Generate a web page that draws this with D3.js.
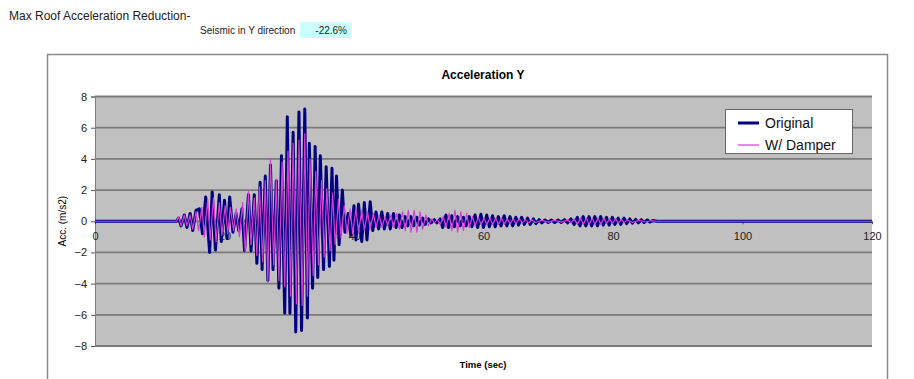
<!DOCTYPE html>
<html>
<head>
<meta charset="utf-8">
<script src="https://cdn.jsdelivr.net/npm/d3@7"></script>
<style>
  body { margin: 0; background: #fff; font-family: "Liberation Sans", Arial, sans-serif; }
</style>
</head>
<body>
<div id="chart"></div>
<script>
// header values
const headerTitle = "Max Roof Acceleration Reduction-";
const caseLabel = "Seismic in Y direction";
const caseValue = "-22.6%";

// axis ticks
const xTicks = [0, 20, 40, 60, 80, 100, 120];
const yTicks = [-8, -6, -4, -2, 0, 2, 4, 6, 8];

// series names
const seriesNames = ["Original", "W/ Damper"];

// Original: [time (sec), acc (m/s2)] at the visible peaks/troughs
const original = [
  [0, 0], [12.6, 0], [12.9, 0.2], [13.3, -0.3], [13.8, 0.4], [14.2, -0.4], [14.7, 0.5], [15.1, -0.6],
  [15.6, 0.7], [16.1, 0.8], [16.6, -0.8], [17.1, 1.56], [17.7, -2.0], [18.1, 1.88], [18.6, -1.85],
  [19.2, 1.7], [19.5, -1.3], [20.0, 1.35], [20.4, -1.1], [20.8, 1.56], [21.3, -0.7], [21.8, 0.5],
  [22.2, -0.6], [22.7, 0.8], [23.1, -1.9], [23.7, 1.7], [24.1, -1.9], [24.6, 1.7], [25.0, -2.7],
  [25.5, 2.5], [25.8, -3.1], [26.3, 2.9], [26.7, -3.8], [27.1, 3.6], [27.5, -3.1], [28.0, 2.6],
  [28.4, -4.3], [28.8, 4.2], [29.3, -5.9], [29.7, 6.7], [30.1, -5.9], [30.6, 5.7], [31.0, -7.1],
  [31.5, 7.0], [31.9, -7.0], [32.4, 7.2], [32.8, -6.2], [33.1, 5.0], [33.6, -4.3], [34.0, 4.8],
  [34.4, -3.6], [34.8, 4.2], [35.3, -3.1], [35.7, 3.5], [36.2, -2.9], [36.6, 3.4], [36.9, -2.5],
  [37.3, 2.9], [37.7, -1.5], [38.2, 2.0], [38.6, -0.7], [39.1, 0.5], [39.5, -0.9], [40.0, 1.0],
  [40.3, -1.2], [40.7, 1.1], [41.2, -1.3], [41.6, 1.2], [42.0, -1.2], [42.5, 1.25], [42.9, -0.6],
  [43.4, 0.6], [43.8, -0.5], [44.3, 0.6], [44.7, -0.5], [45.2, 0.5], [45.6, -0.5], [46.1, 0.5],
  [46.5, -0.4], [47.0, 0.4], [47.4, -0.4], [47.9, 0.3], [48.3, -0.3], [48.8, 0.3], [49.2, -0.3],
  [49.7, 0.25], [50.1, -0.25], [50.6, 0.2], [51.0, -0.2], [51.5, 0.15], [51.9, -0.1], [52.4, 0.1],
  [52.8, -0.1], [53.3, 0.15], [53.7, -0.4], [54.2, 0.4], [54.6, -0.4], [55.1, 0.35], [55.5, -0.35],
  [56.0, 0.3], [56.4, -0.3], [56.9, 0.25], [57.3, -0.3], [57.8, 0.3], [58.2, -0.35], [58.7, 0.4],
  [59.1, -0.4], [59.6, 0.45], [60.0, -0.4], [60.5, 0.4], [60.9, -0.35], [61.4, 0.35], [61.8, -0.35],
  [62.3, 0.3], [62.7, -0.3], [63.2, 0.35], [63.6, -0.3], [64.1, 0.3], [64.5, -0.3], [65.0, 0.25],
  [65.4, -0.25], [65.9, 0.25], [66.3, -0.2], [66.8, 0.2], [67.2, -0.2], [67.7, 0.15], [68.1, -0.15],
  [68.6, 0.1], [69.0, -0.1], [69.5, 0.08], [70.0, -0.08], [70.5, 0.08], [71.0, -0.08], [71.5, 0.08],
  [72.0, -0.08], [72.5, 0.1], [73.0, -0.1], [73.5, 0.15], [74.0, -0.2], [74.5, 0.25], [74.9, -0.3],
  [75.4, 0.3], [75.8, -0.3], [76.3, 0.3], [76.7, -0.3], [77.2, 0.3], [77.6, -0.3], [78.1, 0.3],
  [78.5, -0.25], [79.0, 0.25], [79.4, -0.25], [79.9, 0.25], [80.3, -0.2], [80.8, 0.2], [81.2, -0.2],
  [81.7, 0.2], [82.1, -0.15], [82.6, 0.15], [83.0, -0.12], [83.5, 0.12], [83.9, -0.1], [84.4, 0.1],
  [84.8, -0.08], [85.3, 0.08], [85.7, -0.05], [86.2, 0.05], [86.8, 0], [120, 0]
];

// W/ Damper: [time (sec), acc (m/s2)]
const damper = [
  [0, 0], [12.6, 0], [12.9, 0.3], [13.3, -0.3], [13.8, 0.4], [14.2, -0.3], [14.7, 0.4], [15.1, -0.5],
  [15.6, 0.6], [16.0, -0.6], [16.5, 0.9], [16.9, -1.0], [17.4, 1.4], [17.8, -1.2], [18.3, 1.5],
  [18.7, -1.3], [19.2, 1.2], [19.6, -0.9], [20.1, 1.0], [20.5, -0.8], [20.9, 0.9], [21.4, -0.6],
  [21.8, 0.8], [22.3, -1.0], [22.8, 1.2], [23.2, -2.0], [23.7, 1.9], [24.1, -1.5], [24.6, 1.5],
  [25.0, -2.2], [25.4, 2.2], [25.9, -2.6], [26.3, 2.6], [26.7, -3.9], [27.1, 4.0], [27.6, -2.8],
  [28.0, 2.7], [28.4, -3.8], [28.9, 3.8], [29.3, -4.2], [29.8, 4.5], [30.2, -4.8], [30.6, 5.0],
  [31.1, -5.3], [31.5, 5.2], [32.0, -5.4], [32.4, 5.6], [32.8, -4.8], [33.2, 4.0], [33.7, -3.5],
  [34.1, 3.2], [34.5, -2.8], [35.0, 2.6], [35.4, -2.3], [35.8, 2.1], [36.3, -1.9], [36.7, 1.8],
  [37.1, -1.5], [37.6, 1.4], [38.0, -1.1], [38.5, 1.0], [38.9, -0.8], [39.4, 0.8], [39.8, -0.8],
  [40.3, 0.8], [40.7, -0.7], [41.2, 0.7], [41.6, -0.6], [42.1, 0.6], [42.5, -0.5], [43.0, 0.5],
  [43.4, -0.4], [43.9, 0.4], [44.3, -0.4], [44.8, 0.3], [45.2, -0.3], [45.7, 0.4], [46.1, -0.4],
  [46.6, 0.5], [47.0, -0.5], [47.5, 0.6], [47.9, -0.6], [48.4, 0.7], [48.8, -0.7], [49.3, 0.7],
  [49.7, -0.7], [50.2, 0.6], [50.6, -0.5], [51.1, 0.4], [51.5, -0.3], [52.0, 0.15], [52.4, -0.1],
  [52.9, 0.1], [53.3, -0.2], [53.8, 0.3], [54.2, -0.4], [54.7, 0.5], [55.1, -0.6], [55.6, 0.7],
  [56.0, -0.7], [56.5, 0.6], [56.9, -0.6], [57.4, 0.5], [57.8, -0.4], [58.3, 0.3], [58.7, -0.3],
  [59.2, 0.25], [59.6, -0.2], [60.1, 0.2], [60.5, -0.2], [61.0, 0.2], [61.4, -0.2], [61.9, 0.2],
  [62.3, -0.2], [62.8, 0.2], [63.2, -0.2], [63.7, 0.15], [64.1, -0.15], [64.6, 0.15], [65.0, -0.15],
  [65.5, 0.15], [66.0, -0.1], [66.5, 0.1], [67.0, -0.1], [67.5, 0.1], [68.0, -0.08], [69.0, 0.06],
  [70.0, -0.06], [71.0, 0.06], [72.0, -0.06], [73.0, 0.08], [73.5, -0.1], [74.0, 0.15], [74.5, -0.2],
  [75.0, 0.2], [75.4, -0.2], [75.9, 0.2], [76.3, -0.2], [76.8, 0.2], [77.2, -0.2], [77.7, 0.2],
  [78.1, -0.2], [78.6, 0.2], [79.0, -0.15], [79.5, 0.15], [79.9, -0.15], [80.4, 0.15], [80.8, -0.12],
  [81.3, 0.12], [81.7, -0.1], [82.2, 0.1], [83.0, -0.08], [84.0, 0.06], [85.0, -0.05], [86.0, 0.04],
  [86.8, 0], [120, 0]
];

const colors = ["#000080", "#d63cd6"];
const widths = [3, 1.2];

const W = 914, H = 379;
const svg = d3.select("#chart").append("svg").attr("width", W).attr("height", H)
  .style("font-family", "'Liberation Sans', Arial, sans-serif");

// header
svg.append("text").attr("x", 9).attr("y", 20).style("font-size", "12px").attr("fill", "#222").text(headerTitle);
svg.append("rect").attr("x", 300).attr("y", 22).attr("width", 51).attr("height", 16).attr("fill", "#ccffff");
svg.append("text").attr("x", 200).attr("y", 34).style("font-size", "10px").attr("fill", "#222").text(caseLabel);
svg.append("text").attr("x", 347).attr("y", 34).attr("text-anchor", "end").style("font-size", "10px").attr("fill", "#222").text(caseValue);

// chart frame
svg.append("rect").attr("x", 47.5).attr("y", 54.5).attr("width", 840).attr("height", 340)
  .attr("fill", "#fff").attr("stroke", "#8a8a8a").attr("stroke-width", 1.5);

const margin = { left: 95, right: 872, top: 96.5, bottom: 346 };
const x = d3.scaleLinear().domain([0, 120]).range([margin.left, margin.right]);
const y = d3.scaleLinear().domain([-8, 8]).range([margin.bottom, margin.top]);

// plot area
svg.append("rect").attr("x", x(0)).attr("y", y(8)).attr("width", x(120) - x(0)).attr("height", y(-8) - y(8))
  .attr("fill", "#c0c0c0");

// gridlines
svg.append("g").selectAll("line").data(yTicks).join("line")
  .attr("x1", x(0)).attr("x2", x(120))
  .attr("y1", d => y(d)).attr("y2", d => y(d))
  .attr("stroke", "#7a7a7a").attr("stroke-width", 1.8);

// y axis
const yAxis = svg.append("g").attr("transform", `translate(${x(0)},0)`)
  .call(d3.axisLeft(y).tickValues(yTicks).tickSize(4).tickPadding(4).tickFormat(d3.format("d")));
yAxis.select(".domain").attr("stroke", "#7f7f7f");
yAxis.selectAll("line").attr("stroke", "#555");
yAxis.selectAll("text").style("font-size", "11px").attr("fill", "#222").style("font-family", "'Liberation Sans', Arial, sans-serif");

// x axis at zero
const xAxis = svg.append("g").attr("transform", `translate(0,${y(0)})`)
  .call(d3.axisBottom(x).tickValues(xTicks).tickSize(3).tickPadding(8));
xAxis.select(".domain").remove();
xAxis.selectAll("line").attr("stroke", "#555");
xAxis.selectAll("text").style("font-size", "11px").attr("fill", "#222").style("font-family", "'Liberation Sans', Arial, sans-serif");

// series lines
const line = d3.line().x(d => x(d[0])).y(d => y(d[1]));
[original, damper].forEach((s, i) => {
  svg.append("path").datum(s)
    .attr("fill", "none")
    .attr("stroke", colors[i])
    .attr("stroke-width", widths[i])
    .attr("stroke-linejoin", "round")
    .attr("d", line);
});

// title and axis labels
svg.append("text").attr("x", 483).attr("y", 79).attr("text-anchor", "middle")
  .style("font-size", "12px").style("font-weight", "bold").text("Acceleration Y");
svg.append("text").attr("x", 483).attr("y", 368).attr("text-anchor", "middle")
  .style("font-size", "9.5px").style("font-weight", "bold").text("Time (sec)");
svg.append("text").attr("transform", `translate(66,${y(0)}) rotate(-90)`).attr("text-anchor", "middle")
  .style("font-size", "10px").text("Acc. (m/s2)");

// legend
const legend = svg.append("g").attr("transform", "translate(725,109)");
legend.append("rect").attr("x", 0.5).attr("y", 0.5).attr("width", 127).attr("height", 44)
  .attr("fill", "#fff").attr("stroke", "#666").attr("stroke-width", 1);
seriesNames.forEach((name, i) => {
  const ly = 14 + i * 22;
  legend.append("line").attr("x1", 13).attr("x2", 34).attr("y1", ly).attr("y2", ly)
    .attr("stroke", colors[i]).attr("stroke-width", widths[i]);
  legend.append("text").attr("x", 40).attr("y", ly + 5).style("font-size", "14px").attr("fill", "#111").text(name);
});
</script>
</body>
</html>
